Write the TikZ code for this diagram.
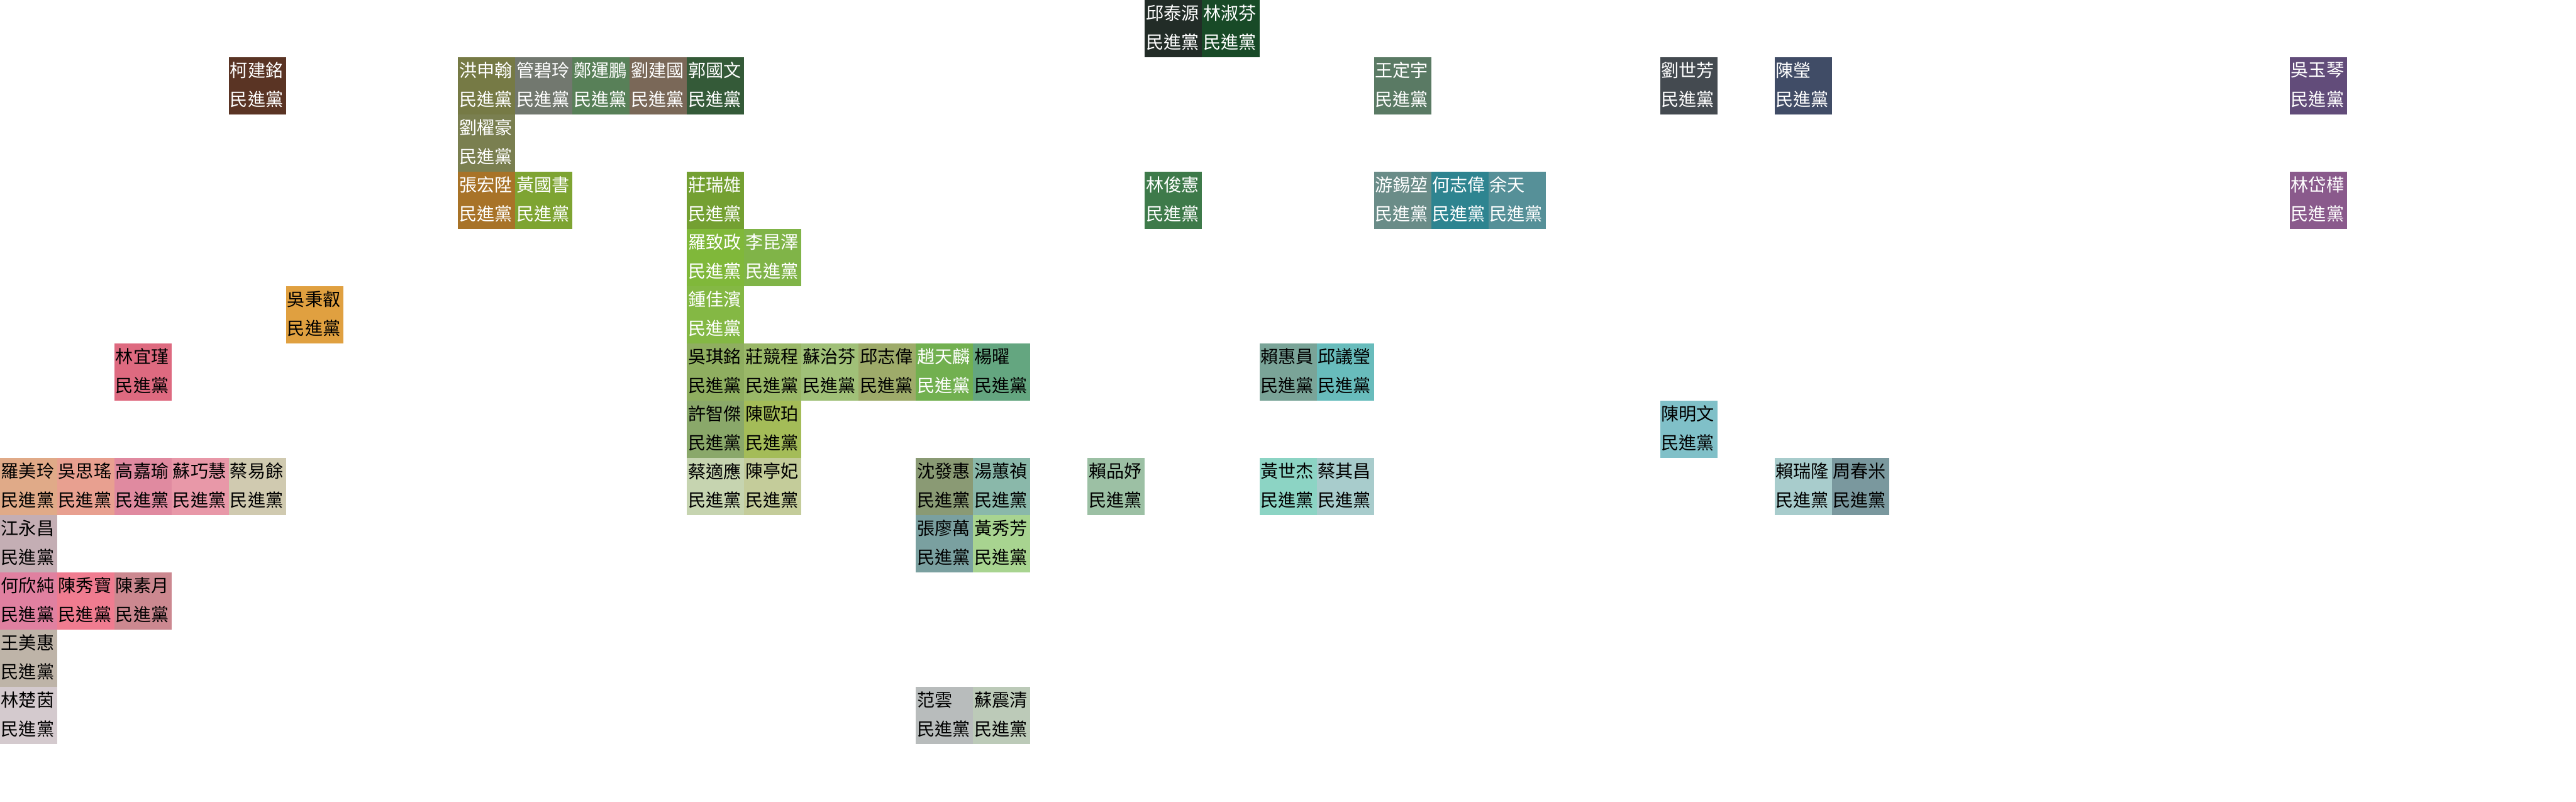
\documentclass[tikz,border=0pt]{standalone}
\usepackage{fontspec}
\newfontfamily\cjk{Noto Sans CJK TC}
\tikzset{
  cellbox/.style={rectangle, anchor=north west, minimum width=1cm, minimum height=1cm, inner sep=0pt, outer sep=0pt, draw=none},
  celltxt/.style={anchor=west, inner sep=0pt, outer sep=0pt, font=\cjk\fontsize{8.8pt}{9pt}\selectfont}
}
\newcommand\cand[6]{%
  \definecolor{tmpfill}{HTML}{#4}%
  \node[cellbox, fill=tmpfill] (#1) at (#2,-#3) {};
  \node[celltxt, text=#5] (#1n) at ([xshift=0.02cm,yshift=-0.23cm]#1.north west) {#6};
  \node[celltxt, text=#5] (#1p) at ([xshift=0.02cm,yshift=-0.73cm]#1.north west) {民進黨};
}
\begin{document}
\begin{tikzpicture}
\fill[white] (0,0) rectangle (45,-14);
\useasboundingbox (0,0) rectangle (45,-14);
% row 0
\cand{a1}{20}{0}{222C27}{white}{邱泰源}
\cand{a2}{21}{0}{184A27}{white}{林淑芬}
% row 1
\cand{b1}{4}{1}{5A3424}{white}{柯建銘}
\cand{b2}{8}{1}{767A45}{white}{洪申翰}
\cand{b3}{9}{1}{72786F}{white}{管碧玲}
\cand{b4}{10}{1}{588058}{white}{鄭運鵬}
\cand{b5}{11}{1}{7A6858}{white}{劉建國}
\cand{b6}{12}{1}{345A38}{white}{郭國文}
\cand{b7}{24}{1}{5A7A64}{white}{王定宇}
\cand{b8}{29}{1}{444A50}{white}{劉世芳}
\cand{b9}{31}{1}{404C66}{white}{陳瑩}
\cand{b10}{40}{1}{624C7A}{white}{吳玉琴}
% row 2
\cand{c1}{8}{2}{7A7F50}{white}{劉櫂豪}
% row 3
\cand{d1}{8}{3}{A87328}{white}{張宏陞}
\cand{d2}{9}{3}{7EA432}{white}{黃國書}
\cand{d3}{12}{3}{74A032}{white}{莊瑞雄}
\cand{d4}{20}{3}{3E7A4A}{white}{林俊憲}
\cand{d5}{24}{3}{6A8C88}{white}{游錫堃}
\cand{d6}{25}{3}{2E8490}{white}{何志偉}
\cand{d7}{26}{3}{569098}{white}{余天}
\cand{d8}{40}{3}{8A5A8C}{white}{林岱樺}
% row 4
\cand{e1}{12}{4}{80B83A}{white}{羅致政}
\cand{e2}{13}{4}{80B448}{white}{李昆澤}
% row 5
\cand{f1}{5}{5}{E0A040}{black}{吳秉叡}
\cand{f2}{12}{5}{84B844}{white}{鍾佳濱}
% row 6
\cand{g1}{2}{6}{DE6A80}{black}{林宜瑾}
\cand{g2}{12}{6}{8FAE60}{black}{吳琪銘}
\cand{g3}{13}{6}{9AB868}{black}{莊競程}
\cand{g4}{14}{6}{A0C078}{black}{蘇治芬}
\cand{g5}{15}{6}{9EAB6A}{black}{邱志偉}
\cand{g6}{16}{6}{72B050}{white}{趙天麟}
\cand{g7}{17}{6}{64A680}{black}{楊曜}
\cand{g8}{22}{6}{7AA498}{black}{賴惠員}
\cand{g9}{23}{6}{68BCBC}{black}{邱議瑩}
% row 7
\cand{h1}{12}{7}{8AA86A}{black}{許智傑}
\cand{h2}{13}{7}{A4BC58}{black}{陳歐珀}
\cand{h3}{29}{7}{80C0C8}{black}{陳明文}
% row 8
\cand{i1}{0}{8}{E0AA88}{black}{羅美玲}
\cand{i2}{1}{8}{E8A090}{black}{吳思瑤}
\cand{i3}{2}{8}{E08AA0}{black}{高嘉瑜}
\cand{i4}{3}{8}{E898A8}{black}{蘇巧慧}
\cand{i5}{4}{8}{D0CAB0}{black}{蔡易餘}
\cand{i6}{12}{8}{C6D4B0}{black}{蔡適應}
\cand{i7}{13}{8}{C4CC9A}{black}{陳亭妃}
\cand{i8}{16}{8}{8A9A74}{black}{沈發惠}
\cand{i9}{17}{8}{8AB8AA}{black}{湯蕙禎}
\cand{i10}{19}{8}{9CC0A4}{black}{賴品妤}
\cand{i11}{22}{8}{8CD4C4}{black}{黃世杰}
\cand{i12}{23}{8}{A8CCCC}{black}{蔡其昌}
\cand{i13}{31}{8}{A8CCCC}{black}{賴瑞隆}
\cand{i14}{32}{8}{7A989E}{black}{周春米}
% row 9
\cand{j1}{0}{9}{C4AEB4}{black}{江永昌}
\cand{j2}{16}{9}{7AA0A0}{black}{張廖萬}
\cand{j3}{17}{9}{A8D490}{black}{黃秀芳}
% row 10
\cand{k1}{0}{10}{E080A0}{black}{何欣純}
\cand{k2}{1}{10}{F07C90}{black}{陳秀寶}
\cand{k3}{2}{10}{CC8890}{black}{陳素月}
% row 11
\cand{l1}{0}{11}{BEB4A8}{black}{王美惠}
% row 12
\cand{m1}{0}{12}{D4CACE}{black}{林楚茵}
\cand{m2}{16}{12}{B8BCBC}{black}{范雲}
\cand{m3}{17}{12}{BCCAB8}{black}{蘇震清}
\end{tikzpicture}
\end{document}
